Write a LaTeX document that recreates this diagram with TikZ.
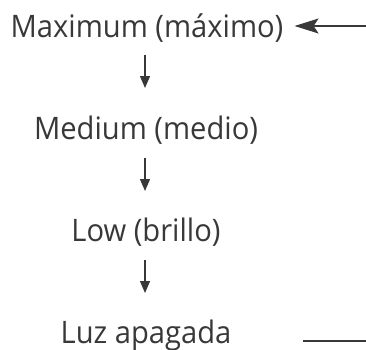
\documentclass[tikz,border=0pt]{standalone}
\usepackage{fontspec}
\setmainfont{Open Sans}[FakeStretch=0.94]
\usepackage{xcolor}
\usetikzlibrary{arrows.meta}
\definecolor{inkgrey}{HTML}{383838}

\begin{document}
\begin{tikzpicture}[x=1pt, y=-1pt,
  level/.style={anchor=base, inner sep=0pt, font=\fontsize{31}{36}\selectfont, text=inkgrey},
  stepline/.style={draw=inkgrey, line width=1.3pt, -{Triangle[length=12pt, width=10pt]}},
  entryline/.style={draw=inkgrey, line width=1.4pt, -{Stealth[length=24pt, width=15pt, inset=5pt]}},
]
\useasboundingbox (0,0) rectangle (366,349);

% levels
\node[level] (max) at (147,37) {Maximum (máximo)};
\node[level] (med) at (146,139) {Medium (medio)};
\node[level] (low) at (146,241) {Low (brillo)};
\node[level] (off) at (146,343) {Luz apagada};

% steps down
\draw[stepline] ([yshift=-18pt]max.base -| 145,0) -- ([yshift=51pt]med.base -| 145,0);
\draw[stepline] ([yshift=-19pt]med.base -| 145,0) -- ([yshift=50pt]low.base -| 145,0);
\draw[stepline] ([yshift=-19pt]low.base -| 145,0) -- ([yshift=50pt]off.base -| 145,0);

% loop back
\coordinate (inR) at (366,26);
\draw[entryline] (inR) -- ([xshift=11pt]max.east |- inR);
\coordinate (outL) at (303,341);
\coordinate (outR) at (366,341);
\draw[inkgrey, line width=1.4pt] (outL) -- (outR);
\end{tikzpicture}
\end{document}
